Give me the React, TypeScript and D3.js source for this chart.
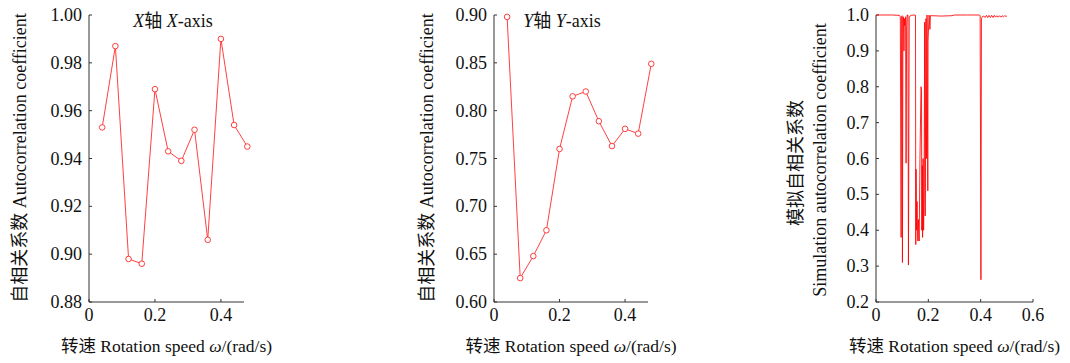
import React from 'react'
import * as d3 from 'd3'

// measured speeds (rad/s)
const speeds = [0.04, 0.08, 0.12, 0.16, 0.2, 0.24, 0.28, 0.32, 0.36, 0.4, 0.44, 0.48]
const xAxisCoef = [0.953, 0.987, 0.898, 0.896, 0.969, 0.943, 0.939, 0.952, 0.906, 0.99, 0.954, 0.945]
const yAxisCoef = [0.898, 0.625, 0.648, 0.675, 0.76, 0.815, 0.82, 0.789, 0.763, 0.781, 0.776, 0.849]

// simulation curve
const simSpeed = [
  0, 0.03, 0.06, 0.09, 0.093, 0.096, 0.098, 0.1, 0.101, 0.103, 0.105, 0.107, 0.108, 0.11,
  0.113, 0.115, 0.117, 0.119, 0.122, 0.124, 0.127, 0.134, 0.145, 0.151, 0.152, 0.153, 0.155,
  0.157, 0.158, 0.16, 0.162, 0.164, 0.165, 0.168, 0.172, 0.174, 0.175, 0.177, 0.178, 0.18,
  0.182, 0.184, 0.186, 0.188, 0.191, 0.193, 0.195, 0.198, 0.199, 0.203, 0.206, 0.208, 0.21,
  0.213, 0.25, 0.29, 0.3, 0.35, 0.396, 0.398, 0.401, 0.403, 0.407, 0.412, 0.417, 0.422,
  0.427, 0.432, 0.437, 0.442, 0.447, 0.452, 0.457, 0.462, 0.467, 0.472, 0.477, 0.482,
  0.487, 0.492, 0.497, 0.5,
]
const simCoef = [
  1.0, 1.0, 1.0, 0.999, 0.995, 0.38, 0.995, 0.998, 0.31, 0.99, 0.995, 0.9, 0.99, 0.97,
  0.995, 0.587, 0.97, 1.0, 1.0, 0.303, 0.995, 0.999, 1.0, 0.999, 0.36, 0.57, 0.4,
  0.48, 0.43, 0.37, 0.43, 0.39, 0.37, 0.6, 0.8, 0.79, 0.4, 0.58, 0.38, 0.6,
  0.4, 0.52, 0.98, 0.44, 0.99, 0.6, 1.0, 0.51, 0.93, 1.0, 0.96, 0.998, 0.999,
  0.998, 0.997, 0.998, 1.0, 1.0, 1.0, 0.998, 0.262, 0.99, 0.996, 0.997, 0.993, 0.999,
  0.993, 0.999, 0.993, 0.999, 0.993, 0.999, 0.994, 0.998, 0.994, 0.998, 0.994, 0.998,
  0.995, 0.998, 0.996, 0.997,
]

const xTicks12 = [0, 0.2, 0.4]
const xTicks3 = [0, 0.2, 0.4, 0.6]
const yTicks1 = [0.88, 0.9, 0.92, 0.94, 0.96, 0.98, 1.0]
const yTicks2 = [0.6, 0.65, 0.7, 0.75, 0.8, 0.85, 0.9]
const yTicks3 = [0.2, 0.3, 0.4, 0.5, 0.6, 0.7, 0.8, 0.9, 1.0]

const FONT = "'Liberation Serif', 'Times New Roman', 'Noto Sans CJK SC', serif"
const RED = '#ff2a2a'
const TOP = 15
const BOTTOM = 302

type PanelProps = {
  x0: number
  x1: number
  xDomain: [number, number]
  yDomain: [number, number]
  xTicks: number[]
  yTicks: number[]
  yFmt: (v: number) => string
  children: (x: d3.ScaleLinear<number, number>, y: d3.ScaleLinear<number, number>) => React.ReactNode
  xTitle: React.ReactNode
  yTitle: React.ReactNode
}

function Panel({ x0, x1, xDomain, yDomain, xTicks, yTicks, yFmt, children, xTitle, yTitle }: PanelProps) {
  const x = d3.scaleLinear().domain(xDomain).range([x0, x1])
  const y = d3.scaleLinear().domain(yDomain).range([BOTTOM, TOP])
  const cx = (x0 + x1) / 2
  return (
    <g>
      <line x1={x0} x2={x0} y1={TOP} y2={BOTTOM} stroke="#333" strokeWidth={1} />
      <line x1={x0} x2={x1} y1={BOTTOM} y2={BOTTOM} stroke="#333" strokeWidth={1} />
      {yTicks.map((t) => (
        <g key={'y' + t}>
          <line x1={x0} x2={x0 + 3} y1={y(t)} y2={y(t)} stroke="#333" />
          <text x={x0 - 7} y={y(t) + 6} textAnchor="end" fontSize={18} fill="#111">
            {yFmt(t)}
          </text>
        </g>
      ))}
      {xTicks.map((t) => (
        <g key={'x' + t}>
          <line x1={x(t)} x2={x(t)} y1={BOTTOM} y2={BOTTOM - 3} stroke="#333" />
          <text x={x(t)} y={321} textAnchor="middle" fontSize={18} fill="#111">
            {t === 0 ? '0' : d3.format('.1f')(t)}
          </text>
        </g>
      ))}
      <text x={cx} y={352} textAnchor="middle" fontSize={17.5} fill="#111">
        {xTitle}
      </text>
      {yTitle}
      {children(x, y)}
    </g>
  )
}

function Series({ x, y, xs, ys }: { x: any; y: any; xs: number[]; ys: number[] }) {
  const pts = xs.map((v, i) => [v, ys[i]] as [number, number])
  const line = d3.line<[number, number]>().x((d) => x(d[0])).y((d) => y(d[1]))
  return (
    <g>
      <path d={line(pts) || ''} fill="none" stroke={RED} strokeWidth={0.9} />
      {pts.map((d, i) => (
        <circle key={i} cx={x(d[0])} cy={y(d[1])} r={2.8} fill="white" stroke={RED} strokeWidth={0.9} />
      ))}
    </g>
  )
}

const speedTitle = (gap: string) => (
  <>
    {'转速' + gap + 'Rotation speed '}
    <tspan fontStyle="italic">ω</tspan>
    {'/(rad/s)'}
  </>
)

export default function App() {
  const simPts = simSpeed.map((v, i) => [v, simCoef[i]] as [number, number])
  return (
    <div style={{ position: 'absolute', left: 0, top: 0 }}>
      <svg width={1070} height={363} style={{ display: 'block', background: 'white' }} fontFamily={FONT}>
        <Panel
          x0={89}
          x1={244}
          xDomain={[0, 0.47]}
          yDomain={[0.88, 1.0]}
          xTicks={xTicks12}
          yTicks={yTicks1}
          yFmt={d3.format('.2f')}
          xTitle={speedTitle(' ')}
          yTitle={
            <text transform="translate(26,158) rotate(-90)" textAnchor="middle" fontSize={18} fill="#111">
              自相关系数 Autocorrelation coefficient
            </text>
          }
        >
          {(x, y) => (
            <>
              <Series x={x} y={y} xs={speeds} ys={xAxisCoef} />
              <text x={173} y={27} textAnchor="middle" fontSize={18} fill="#111">
                <tspan fontStyle="italic">X</tspan>轴 <tspan fontStyle="italic">X</tspan>-axis
              </text>
            </>
          )}
        </Panel>
        <Panel
          x0={494}
          x1={648}
          xDomain={[0, 0.47]}
          yDomain={[0.6, 0.9]}
          xTicks={xTicks12}
          yTicks={yTicks2}
          yFmt={d3.format('.2f')}
          xTitle={speedTitle(' ')}
          yTitle={
            <text transform="translate(433,158) rotate(-90)" textAnchor="middle" fontSize={18} fill="#111">
              自相关系数 Autocorrelation coefficient
            </text>
          }
        >
          {(x, y) => (
            <>
              <Series x={x} y={y} xs={speeds} ys={yAxisCoef} />
              <text x={562} y={27} textAnchor="middle" fontSize={18} fill="#111">
                <tspan fontStyle="italic">Y</tspan>轴 <tspan fontStyle="italic">Y</tspan>-axis
              </text>
            </>
          )}
        </Panel>
        <Panel
          x0={876}
          x1={1033}
          xDomain={[0, 0.6]}
          yDomain={[0.2, 1.0]}
          xTicks={xTicks3}
          yTicks={yTicks3}
          yFmt={d3.format('.1f')}
          xTitle={speedTitle('  ')}
          yTitle={
            <>
              <text transform="translate(802,163) rotate(-90)" textAnchor="middle" fontSize={18} fill="#111">
                模拟自相关系数
              </text>
              <text transform="translate(826,160) rotate(-90)" textAnchor="middle" fontSize={18} fill="#111">
                Simulation autocorrelation coefficient
              </text>
            </>
          }
        >
          {(x, y) => {
            const line = d3.line<[number, number]>().x((d) => x(d[0])).y((d) => y(d[1]))
            return <path d={line(simPts) || ''} fill="none" stroke="#ff0000" strokeWidth={1} strokeOpacity={0.85} />
          }}
        </Panel>
      </svg>
    </div>
  )
}
